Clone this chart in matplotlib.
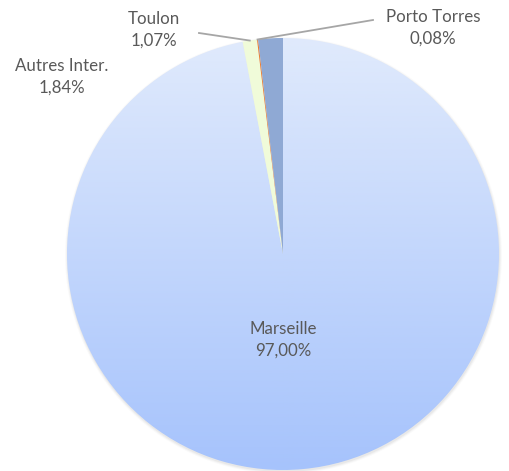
import numpy as np
import matplotlib.pyplot as plt
from matplotlib.patches import Wedge

plt.rcParams['font.family'] = ['Lato', 'DejaVu Sans']

# data
labels = ['Marseille', 'Toulon', 'Porto Torres', 'Autres Inter.']
shares = [97.00, 1.07, 0.08, 1.84]
colors = [None, '#f0fbd9', '#ed7d31', '#8fa9d4']

# label placement (pixel coords of the text centre, Excel-like manual layout)
label_pos = {'Toulon': (154, 30), 'Porto Torres': (433, 28), 'Autres Inter.': (62, 77)}
leader_start = {'Toulon': (199, 33), 'Porto Torres': (373, 20)}

W, H = 509, 471
cx, cy, R = 283, 254, 216
txt_col = '#595959'

fig = plt.figure(figsize=(W / 100, H / 100), dpi=100)
ax = fig.add_axes([0, 0, 1, 1])
ax.set_xlim(0, W)
ax.set_ylim(H, 0)
ax.axis('off')

# pixel coords with y downward: angle measured clockwise from 12 o'clock
def pt(frac_deg, r):
    a = np.deg2rad(frac_deg)
    return cx + r * np.sin(a), cy - r * np.cos(a)

# faint shadow
for k, alpha in enumerate([0.04, 0.03, 0.02]):
    sh = plt.Circle((cx + 0.5, cy + 1.5), R + 0.5 + k, color='black', alpha=alpha, lw=0)
    ax.add_patch(sh)

total = sum(shares)
angles = np.cumsum([0] + [s / total * 360 for s in shares])

mids = {}
for i, (lab, col) in enumerate(zip(labels, colors)):
    a0, a1 = angles[i], angles[i + 1]
    t0, t1 = a0 - 90, a1 - 90
    if col is None:
        w = Wedge((cx, cy), R, t0, t1, lw=0, facecolor='none')
        ax.add_patch(w)
        grad = np.linspace(0, 1, 256).reshape(-1, 1)
        top = np.array([0xe0, 0xea, 0xfc]) / 255
        bot = np.array([0xa6, 0xc3, 0xfc]) / 255
        img = top + grad[..., None] * (bot - top)
        im = ax.imshow(img, extent=(cx - R, cx + R, cy + R, cy - R), aspect='auto', zorder=2)
        im.set_clip_path(w)
    else:
        w = Wedge((cx, cy), R, t0, t1, lw=0, facecolor=col, zorder=3)
        ax.add_patch(w)
    mids[lab] = (a0 + a1) / 2

ax.set_xlim(0, W)
ax.set_ylim(H, 0)

fs = 12.2
# Marseille label inside
ax.text(cx, 329, 'Marseille', ha='center', va='center', fontsize=fs, color=txt_col, zorder=5)
ax.text(cx, 351, f'{shares[0]:.2f}%'.replace('.', ','), ha='center', va='center',
        fontsize=fs, color=txt_col, zorder=5)

for lab, share in zip(labels[1:], shares[1:]):
    x, y = label_pos[lab]
    ax.text(x, y - 11, lab, ha='center', va='center', fontsize=fs, color=txt_col, zorder=5)
    ax.text(x, y + 11, f'{share:.2f}%'.replace('.', ','), ha='center', va='center',
            fontsize=fs, color=txt_col, zorder=5)
    if lab in leader_start:
        ex, ey = pt(mids[lab], R)
        sx, sy = leader_start[lab]
        ax.plot([sx, ex], [sy, ey], color='#a6a6a6', lw=1.3, zorder=4)

fig.savefig('out.png', dpi=100)
